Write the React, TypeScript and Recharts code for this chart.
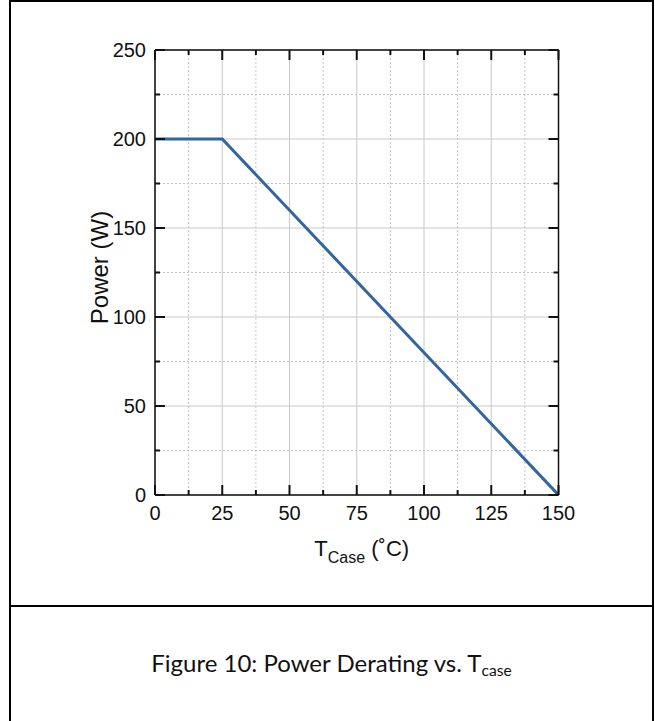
import React from 'react';
import { LineChart, Line, XAxis, YAxis, CartesianGrid } from 'recharts';

// Power derating curve: flat to 25 °C, then linear down to 0 W at 150 °C
const caseTemps = [0, 25, 150];
const powerWatts = [200, 200, 0];

const xTicks = [0, 12.5, 25, 37.5, 50, 62.5, 75, 87.5, 100, 112.5, 125, 137.5, 150];
const xMajor = [0, 25, 50, 75, 100, 125, 150];
const xGridMajor = [25, 50, 75, 100, 125];
const xGridMinor = [12.5, 37.5, 62.5, 87.5, 112.5, 137.5];

const yTicks = [0, 25, 50, 75, 100, 125, 150, 175, 200, 225, 250];
const yMajor = [0, 50, 100, 150, 200, 250];
const yGridMajor = [50, 100, 150, 200];
const yGridMinor = [25, 75, 125, 175, 225];

const X_DOMAIN: [number, number] = [0, 150];
const Y_DOMAIN: [number, number] = [0, 250];

const data = caseTemps.map((t, i) => ({ t, p: powerWatts[i] }));

const FONT = '"Liberation Sans", Arial, sans-serif';
const TICK_COLOR = '#111';

const BottomTick = (props: any) => {
  const { x, y, payload } = props;
  const major = xMajor.includes(payload.value);
  return (
    <g>
      <line x1={x} x2={x} y1={y} y2={y - (major ? 10 : 5)} stroke={TICK_COLOR} strokeWidth={2} />
      {major && (
        <text x={x} y={y + 25} textAnchor="middle" fontFamily={FONT} fontSize={20} fill="#111">
          {payload.value}
        </text>
      )}
    </g>
  );
};

const TopTick = (props: any) => {
  const { x, y, payload } = props;
  const major = xMajor.includes(payload.value);
  return <line x1={x} x2={x} y1={y} y2={y + (major ? 10 : 5)} stroke={TICK_COLOR} strokeWidth={2} />;
};

const LeftTick = (props: any) => {
  const { x, y, payload } = props;
  const major = yMajor.includes(payload.value);
  return (
    <g>
      <line x1={x} x2={x + (major ? 10 : 5)} y1={y} y2={y} stroke={TICK_COLOR} strokeWidth={2} />
      {major && (
        <text x={x - 9} y={y + 7} textAnchor="end" fontFamily={FONT} fontSize={20} fill="#111">
          {payload.value}
        </text>
      )}
    </g>
  );
};

const RightTick = (props: any) => {
  const { x, y, payload } = props;
  const major = yMajor.includes(payload.value);
  return <line x1={x} x2={x - (major ? 10 : 5)} y1={y} y2={y} stroke={TICK_COLOR} strokeWidth={2} />;
};

const XTitle = (props: any) => {
  const { viewBox } = props;
  const cx = viewBox.x + viewBox.width / 2 + 5;
  return (
    <text x={cx} y={viewBox.y + 61} textAnchor="middle" fontFamily={FONT} fontSize={22} fill="#111">
      <tspan>T</tspan>
      <tspan fontSize={16} dy={7}>Case</tspan>
      <tspan dy={-7}> (˚C)</tspan>
    </text>
  );
};

const YTitle = (props: any) => {
  const { viewBox } = props;
  const cx = viewBox.x + viewBox.width - 56;
  const cy = viewBox.y + viewBox.height / 2 - 5;
  return (
    <text
      x={cx}
      y={cy}
      transform={`rotate(-90 ${cx} ${cy})`}
      textAnchor="middle"
      dominantBaseline="central"
      fontFamily={FONT}
      fontSize={24}
      fill="#111"
    >
      Power (W)
    </text>
  );
};

const frame = { stroke: '#111', strokeWidth: 1.5 };

export default function App() {
  return (
    <div
      style={{
        position: 'absolute',
        left: 0,
        top: 0,
        width: 655,
        height: 721,
        overflow: 'hidden',
        background: '#fff',
      }}
    >
      <div
        style={{
          position: 'absolute',
          left: 9,
          top: 0,
          width: 645,
          height: 760,
          border: '2px solid #000',
          boxSizing: 'border-box',
        }}
      />
      <div
        style={{
          position: 'absolute',
          left: 9,
          top: 605,
          width: 645,
          height: 2,
          background: '#000',
        }}
      />
      <div style={{ position: 'absolute', left: 0, top: 0 }}>
        <LineChart
          width={655}
          height={721}
          data={data}
          margin={{ top: 49, left: 154, right: 95.5, bottom: 225 }}
        >
          <YAxis
            yAxisId="l"
            dataKey="p"
            type="number"
            domain={Y_DOMAIN}
            allowDataOverflow
            ticks={yTicks}
            interval={0}
            width={1}
            tickSize={0}
            tickMargin={0}
            tickLine={false}
            axisLine={frame}
            tick={<LeftTick />}
            label={<YTitle />}
          />
          <YAxis
            yAxisId="r"
            dataKey="p"
            orientation="right"
            type="number"
            domain={Y_DOMAIN}
            allowDataOverflow
            ticks={yTicks}
            interval={0}
            width={1}
            tickSize={0}
            tickMargin={0}
            tickLine={false}
            axisLine={frame}
            tick={<RightTick />}
          />
          <XAxis
            xAxisId="b"
            dataKey="t"
            type="number"
            domain={X_DOMAIN}
            allowDataOverflow
            ticks={xTicks}
            interval={0}
            height={1}
            tickSize={0}
            tickMargin={0}
            tickLine={false}
            axisLine={frame}
            tick={<BottomTick />}
            label={<XTitle />}
          />
          <XAxis
            xAxisId="t"
            dataKey="t"
            orientation="top"
            type="number"
            domain={X_DOMAIN}
            allowDataOverflow
            ticks={xTicks}
            interval={0}
            height={1}
            tickSize={0}
            tickMargin={0}
            tickLine={false}
            axisLine={frame}
            tick={<TopTick />}
          />
          <XAxis xAxisId="gx1" dataKey="t" type="number" domain={X_DOMAIN} allowDataOverflow ticks={xGridMajor} height={0} hide />
          <XAxis xAxisId="gx2" dataKey="t" type="number" domain={X_DOMAIN} allowDataOverflow ticks={xGridMinor} height={0} hide />
          <YAxis yAxisId="gy1" dataKey="p" type="number" domain={Y_DOMAIN} allowDataOverflow ticks={yGridMajor} width={0} hide />
          <YAxis yAxisId="gy2" dataKey="p" type="number" domain={Y_DOMAIN} allowDataOverflow ticks={yGridMinor} width={0} hide />
          <CartesianGrid xAxisId="gx2" yAxisId="gy2" stroke="#c4c4c4" strokeDasharray="2 2" strokeWidth={1} />
          <CartesianGrid xAxisId="gx1" yAxisId="gy1" stroke="#c8c8c8" strokeWidth={1} />
          <Line
            xAxisId="b"
            yAxisId="l"
            type="linear"
            dataKey="p"
            stroke="#33669e"
            strokeWidth={3}
            dot={false}
            activeDot={false}
            isAnimationActive={false}
          />
        </LineChart>
      </div>
      <div
        style={{
          position: 'absolute',
          left: 9,
          width: 645,
          top: 648,
          textAlign: 'center',
          fontFamily: 'Lato, "Open Sans", sans-serif',
          fontSize: 24,
          lineHeight: '30px',
          color: '#111',
          whiteSpace: 'nowrap',
        }}
      >
        Figure 10: Power Derating vs. T
        <span style={{ fontSize: '0.65em', position: 'relative', top: '0.25em' }}>case</span>
      </div>
    </div>
  );
}
